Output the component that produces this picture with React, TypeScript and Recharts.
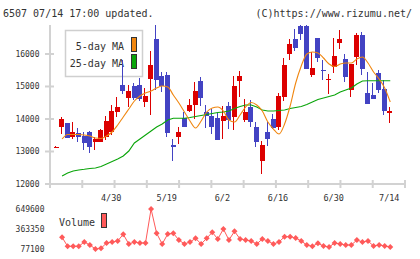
import React from 'react';
import { ComposedChart, LineChart, Bar, Line, XAxis, YAxis } from 'recharts';

// ---- data ----
const dateLabels = ['4/30', '5/19', '6/2', '6/16', '6/30', '7/14'];
const dateLabelIndex = [10, 20, 30, 40, 50, 60];

const opens = [
  13150, 13765, 13867, 13437, 13560, 13477, 13590, 13300, 13300, 13450,
  13600, 14225, 15045, 14640, 15000, 15045, 14510, 15220, 16460, 15330,
  15350, 13200, 13455, 14020, 14245, 14430, 15170, 14210, 14100, 14020,
  13940, 14410, 14070, 15180, 13970, 14380, 13765, 12710, 13610, 14000,
  13740, 14690, 16000, 16460, 16850, 16850, 15350, 16480, 15510, 15220,
  15610, 16330, 15835, 14890, 15920, 16580, 14810, 14740, 15400, 14920,
  14175,
];
const highs = [
  13160, 14070, 13867, 13900, 13714, 13590, 13630, 13455, 13680, 14100,
  14430, 14690, 15800, 15050, 15100, 15270, 14945, 16090, 16890, 15460,
  15450, 13380, 13760, 14225, 14615, 15150, 15300, 14430, 14310, 14180,
  14400, 14510, 15320, 15480, 14615, 14585, 13900, 13320, 13920, 14150,
  14790, 15890, 16460, 16770, 16890, 16890, 16050, 16480, 15820, 15375,
  16480, 16740, 15990, 15700, 16640, 16690, 15460, 15100, 15510, 15200,
  14380,
];
const lows = [
  13140, 13540, 13430, 13390, 13300, 13046, 12945, 13046, 13290, 13350,
  13500, 14070, 14760, 14380, 14590, 14540, 14380, 14120, 14890, 14840,
  13460, 12710, 13220, 13765, 14215, 14000, 14410, 13730, 13530, 13350,
  13385, 13690, 13660, 14690, 13920, 13765, 13150, 12300, 13180, 13700,
  13660, 14550, 15815, 16090, 16430, 15530, 15300, 15760, 15200, 14760,
  15430, 16150, 15150, 14690, 15660, 15350, 14460, 14615, 14810, 14120,
  13870,
];
const closes = [
  13150, 13990, 13430, 13590, 13437, 13252, 13150, 13385, 13662, 13950,
  14250, 14380, 14860, 14860, 14640, 14600, 14715, 15660, 15200, 15015,
  13580, 13150, 13610, 13765, 14430, 14860, 14640, 14100, 13740, 13355,
  14100, 13970, 15015, 15330, 14200, 13920, 13285, 13200, 13385, 13715,
  14720, 15660, 16310, 16190, 16620, 15530, 15580, 15890, 15480, 15240,
  15940, 16460, 15300, 15690, 16580, 15530, 14460, 14615, 14890, 14255,
  14255,
];
const ma5 = [
  null, 13385, 13523, 13523, 13523, 13508, 13477, 13415, 13400, 13477,
  13600, 13815, 14062, 14308, 14554, 14708, 14800, 14862, 14954, 15015,
  14985, 14738, 14492, 14215, 13938, 13723, 13938, 14215, 14338, 14369,
  14246, 13969, 13908, 14123, 14369, 14508, 14431, 14246, 13908, 13692,
  13538, 13846, 14400, 15108, 15631, 16000, 16062, 16031, 15877, 15692,
  15615, 15692, 15723, 15723, 15846, 15908, 15723, 15446, 15231, 14954,
  14523,
];
const ma25 = [
  null, 12246, 12338, 12400, 12431, 12452, 12477, 12492, 12538, 12615,
  12692, 12769, 12862, 13015, 13262, 13385, 13508, 13631, 13754, 13846,
  13969, 14022, 14022, 14022, 14046, 14077, 14108, 14138, 14169, 14200,
  14215, 14246, 14323, 14385, 14431, 14431, 14369, 14277, 14246, 14246,
  14262, 14277, 14323, 14354, 14385, 14446, 14523, 14600, 14646, 14692,
  14738, 14831, 14892, 14954, 15077, 15169, 15175, 15175, 15175, 15175,
  15175,
];
const volume = [
  null, 244600, 115700, 115700, 115700, 177300, 134300, 77100, 87100, 163000,
  177300, 191600, 287500, 148700, 177300, 163000, 163000, 649600, 301800, 148700,
  291800, 301800, 205900, 148700, 177300, 230200, 148700, 230200, 316100, 220200,
  363300, 205900, 330400, 220200, 205900, 191600, 148700, 220200, 191600, 148700,
  177300, 253100, 253100, 234500, 191600, 134300, 115700, 158700, 120000, 105700,
  163000, 148700, 134300, 134300, 205900, 177300, 191600, 120000, 134300, 120000,
  105700,
];
const priceTicks = [12000, 13000, 14000, 15000, 16000];
const priceDomain: [number, number] = [12000, 16892];
const volumeTicks = [77100, 363350, 649600];
const volumeDomain: [number, number] = [77100, 649600];

// ---- styling / layout constants ----
const RED = '#dc0000';
const BLUE = '#4343c3';
const ORANGE = '#f0860f';
const GREEN = '#0aa50a';
const VOL = '#ff5a5a';
const AXIS = '#d2d2d2';
const TEXT = '#333333';
const MONO = '"DejaVu Sans Mono", "Liberation Mono", monospace';

const X_DOMAIN: [number, number] = [-1.17, 62.65];
const GRID_COUNT = 11;
const gridTicks = Array.from({ length: GRID_COUNT + 1 }, (_, k) =>
  k === GRID_COUNT ? X_DOMAIN[1] - 1e-6 : X_DOMAIN[0] + (k * (X_DOMAIN[1] - X_DOMAIN[0])) / GRID_COUNT
);
const xTicks = [...gridTicks, ...dateLabelIndex].sort((a, b) => a - b);

const rows = opens.map((o, i) => ({
  i,
  range: [lows[i], highs[i]],
  open: o,
  close: closes[i],
  high: highs[i],
  low: lows[i],
  ma5: ma5[i],
  ma25: ma25[i],
  volume: volume[i],
}));

const Candle = (props: any) => {
  const { x, y, width, height, payload } = props;
  if (!payload || x == null || y == null) return <g />;
  const { open, close, high, low } = payload;
  const span = high - low;
  const toY = (v: number) => (span > 0 ? y + ((high - v) / span) * height : y);
  const up = close >= open;
  const color = up ? RED : BLUE;
  const cx = Math.round(x + width / 2) - 0.5;
  const top = toY(Math.max(open, close));
  const bot = toY(Math.min(open, close));
  return (
    <g shapeRendering="crispEdges">
      <line x1={cx} x2={cx} y1={y} y2={y + height} stroke={color} strokeWidth={1} />
      <rect x={x} y={top} width={width} height={Math.max(1.5, bot - top)} fill={color} />
    </g>
  );
};

const XTick = (props: any) => {
  const { x, y, payload } = props;
  const v = payload.value;
  const di = dateLabelIndex.indexOf(v);
  if (di >= 0) {
    return (
      <text x={x - 1} y={y + 17} textAnchor="middle" fontFamily={MONO} fontSize={8.5} fill={TEXT}>
        {dateLabels[di]}
      </text>
    );
  }
  return <line x1={x} x2={x} y1={y - 4} y2={y + 4} stroke={AXIS} strokeWidth={2} />;
};

const YTick = (props: any) => {
  const { x, y, payload } = props;
  return (
    <g>
      <line x1={x - 5} x2={x + 4} y1={y} y2={y} stroke={AXIS} strokeWidth={2} />
      <text x={x - 10.5} y={y + 3} textAnchor="end" fontFamily={MONO} fontSize={8} fill={TEXT}>
        {payload.value}
      </text>
    </g>
  );
};

const VTick = (props: any) => {
  const { x, y, payload } = props;
  return (
    <text x={x - 5.5} y={y + 3} textAnchor="end" fontFamily={MONO} fontSize={8} fill={TEXT}>
      {payload.value}
    </text>
  );
};

const Diamond = (props: any) => {
  const { cx, cy, index } = props;
  if (cx == null || cy == null || Number.isNaN(cy)) return <g key={`d${index}`} />;
  const r = 3;
  return (
    <polygon
      key={`d${index}`}
      points={`${cx},${cy - r} ${cx + r},${cy} ${cx},${cy + r} ${cx - r},${cy}`}
      fill={VOL}
    />
  );
};

export default function App() {
  return (
    <div style={{ position: 'absolute', left: 0, top: 0, width: 420, height: 259, background: '#fff', overflow: 'hidden' }}>
      <svg width={420} height={259} style={{ position: 'absolute', left: 0, top: 0 }}>
        <text x={3} y={16.5} fontFamily={MONO} fontSize={10} fill={TEXT}>6507 07/14 17:00 updated.</text>
        <text x={412} y={16.5} textAnchor="end" fontFamily={MONO} fontSize={10} fill={TEXT}>(C)https://www.rizumu.net/</text>
        <rect x={65.5} y={30.5} width={77} height={46} fill="#fff" stroke="#cfcfcf" strokeWidth={1.5} />
        <text x={124} y={49.5} textAnchor="end" fontFamily={MONO} fontSize={10} fill={TEXT}>5-day MA</text>
        <text x={124} y={66.5} textAnchor="end" fontFamily={MONO} fontSize={10} fill={TEXT}>25-day MA</text>
        <rect x={131.5} y={37.5} width={5} height={14} fill={ORANGE} stroke="#333" strokeWidth={1} />
        <rect x={131.5} y={54.5} width={5} height={14} fill={GREEN} stroke="#333" strokeWidth={1} />
        <text x={59} y={226} fontFamily={MONO} fontSize={10} fill={TEXT}>Volume</text>
        <rect x={101.5} y={213.5} width={5} height={14} fill={VOL} stroke="#333" strokeWidth={1} />
      </svg>
      <div style={{ position: 'absolute', left: 0, top: 0 }}>
        <ComposedChart width={420} height={205} data={rows} margin={{ top: 25, right: 15, bottom: 0, left: 0 }}>
          <XAxis
            dataKey="i"
            type="number"
            domain={X_DOMAIN}
            allowDataOverflow
            ticks={xTicks}
            interval={0}
            height={21}
            tickSize={0}
            tickMargin={0}
            tickLine={false}
            axisLine={{ stroke: AXIS, strokeWidth: 2 }}
            tick={<XTick />}
          />
          <YAxis
            type="number"
            domain={priceDomain}
            allowDataOverflow
            ticks={priceTicks}
            interval={0}
            width={50}
            tickSize={0}
            tickMargin={0}
            tickLine={false}
            axisLine={{ stroke: AXIS, strokeWidth: 2 }}
            tick={<YTick />}
          />
          <Bar dataKey="range" barSize={5} shape={<Candle />} isAnimationActive={false} />
          <Line dataKey="ma25" type="linear" stroke={GREEN} strokeWidth={1.1} dot={false} activeDot={false} isAnimationActive={false} />
          <Line dataKey="ma5" type="monotone" stroke={ORANGE} strokeWidth={1.1} dot={false} activeDot={false} isAnimationActive={false} />
        </ComposedChart>
      </div>
      <div style={{ position: 'absolute', left: 0, top: 200 }}>
        <LineChart width={420} height={59} data={rows} margin={{ top: 9, right: 15, bottom: 10, left: 0 }}>
          <XAxis dataKey="i" type="number" domain={X_DOMAIN} allowDataOverflow hide />
          <YAxis
            type="number"
            domain={volumeDomain}
            ticks={volumeTicks}
            interval={0}
            width={50}
            tickSize={0}
            tickMargin={0}
            axisLine={false}
            tickLine={false}
            tick={<VTick />}
          />
          <Line dataKey="volume" type="linear" stroke={VOL} strokeWidth={1} dot={<Diamond />} activeDot={false} isAnimationActive={false} />
        </LineChart>
      </div>
    </div>
  );
}
